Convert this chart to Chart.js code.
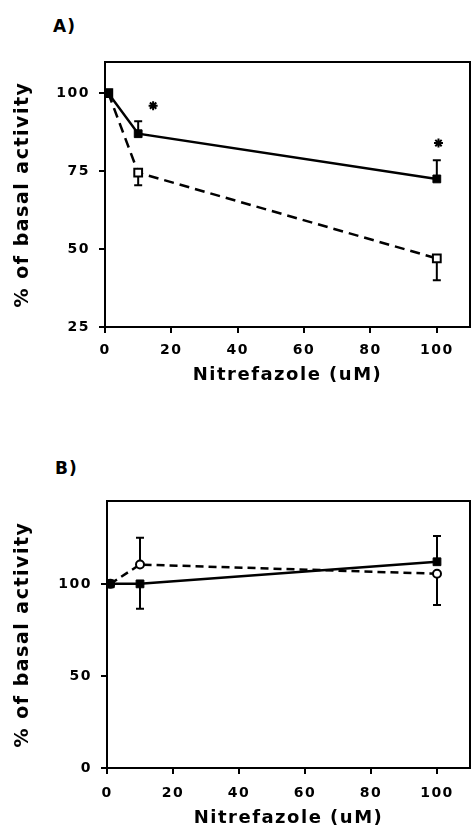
<!DOCTYPE html>
<html>
<head>
<meta charset="utf-8">
<script src="https://cdn.jsdelivr.net/npm/chart.js@4.4.1/dist/chart.umd.min.js"></script>
<style>
  body { margin: 0; background: #fff; width: 471px; height: 827px; overflow: hidden; position: relative; }
  canvas { position: absolute; left: 0; }
  .tag { position: absolute; font: bold 17px "DejaVu Sans"; letter-spacing: 1px; color: #000; }
</style>
</head>
<body>
<div class="tag" style="left:53px;top:16px">A)</div>
<canvas id="chartA" width="471" height="414" style="top:0"></canvas>
<div class="tag" style="left:55px;top:458px">B)</div>
<canvas id="chartB" width="471" height="416" style="top:413px"></canvas>
<script>
// concentrations (uM)
const conc = [1, 10, 100];

// panel A
const solidA = [100, 87, 72.5];
const solidErrA = [0, 4, 6];
const openA = [100, 74.5, 47];
const openErrA = [0, -4, -7];
const starsA = [{ x: 14.5, y: 96 }, { x: 100.5, y: 84 }];

// panel B
const solidB = [100, 100, 112];
const solidErrB = [0, -13.5, 14];
const openB = [100, 110.5, 105.5];
const openErrB = [0, 14.5, -17];

const xTicks = [0, 20, 40, 60, 80, 100];
const yTicksA = [25, 50, 75, 100];
const yTicksB = [0, 50, 100];

const FONT = "DejaVu Sans";

function toPoints(xs, ys) {
  return xs.map((x, i) => ({ x: x, y: ys[i] }));
}

// one-sided error bars, drawn under the markers
const errorBars = {
  id: "errorBars",
  beforeDatasetsDraw(chart) {
    const ctx = chart.ctx;
    const ys = chart.scales.y;
    const xs = chart.scales.x;
    ctx.save();
    ctx.strokeStyle = "#000";
    ctx.lineWidth = 2;
    chart.data.datasets.forEach((ds) => {
      if (!ds.errors) return;
      ds.data.forEach((p, i) => {
        const e = ds.errors[i];
        if (!e) return;
        const px = xs.getPixelForValue(p.x);
        const y0 = ys.getPixelForValue(p.y);
        const y1 = ys.getPixelForValue(p.y + e);
        ctx.beginPath();
        ctx.moveTo(px, y0);
        ctx.lineTo(px, y1);
        ctx.moveTo(px - 4, y1);
        ctx.lineTo(px + 4, y1);
        ctx.stroke();
      });
    });
    ctx.restore();
  },
};

// full frame round the plot area
const frame = {
  id: "frame",
  beforeDraw(chart) {
    chart.ctx.letterSpacing = "1.5px";
  },
  afterDraw(chart) {
    const a = chart.chartArea;
    const ctx = chart.ctx;
    ctx.save();
    ctx.strokeStyle = "#000";
    ctx.lineWidth = 2;
    ctx.strokeRect(a.left, a.top, a.right - a.left, a.bottom - a.top);
    ctx.restore();
  },
};

function makeChart(id, cfg) {
  const tickFont = { family: FONT, size: 14, weight: "bold" };
  const titleFont = { family: FONT, size: 18, weight: "bold" };
  return new Chart(document.getElementById(id), {
    type: "scatter",
    data: {
      datasets: [
        {
          data: toPoints(conc, cfg.solid),
          errors: cfg.solidErr,
          showLine: true,
          borderColor: "#000",
          borderWidth: 2.5,
          pointStyle: "rect",
          pointRadius: 5.5,
          pointBackgroundColor: "#000",
          pointBorderColor: "#000",
          pointBorderWidth: 1,
        },
        {
          data: toPoints(conc, cfg.open),
          errors: cfg.openErr,
          showLine: true,
          borderColor: "#000",
          borderWidth: 2.5,
          borderDash: cfg.dash,
          pointStyle: cfg.openStyle,
          pointRadius: cfg.openRadius,
          pointBackgroundColor: "#fff",
          pointBorderColor: "#000",
          pointBorderWidth: 2,
        },
        {
          data: cfg.stars,
          showLine: false,
          pointStyle: "star",
          pointRadius: 4.5,
          pointBorderColor: "#000",
          pointBorderWidth: 2,
        },
      ],
    },
    options: {
      responsive: false,
      animation: false,
      layout: { autoPadding: false, padding: { top: cfg.top, right: 1, left: 0, bottom: 0 } },
      plugins: { legend: { display: false }, tooltip: { enabled: false } },
      scales: {
        x: {
          type: "linear",
          min: 0,
          max: 110,
          afterBuildTicks: (s) => { s.ticks = xTicks.map((v) => ({ value: v })); },
          afterFit: (s) => { s.height = cfg.xHeight; s.paddingLeft = 0; s.paddingRight = 0; },
          border: { display: false },
          grid: { drawOnChartArea: false, drawTicks: true, tickLength: 6, color: "#000", lineWidth: 2 },
          ticks: { color: "#000", font: tickFont, padding: cfg.xPad, autoSkip: false, maxRotation: 0 },
          title: { display: true, text: "Nitrefazole (uM)", color: "#000", font: titleFont, padding: { top: 0, bottom: cfg.titlePad } },
        },
        y: {
          type: "linear",
          min: cfg.yMin,
          max: cfg.yMax,
          afterBuildTicks: (s) => { s.ticks = cfg.yTicks.map((v) => ({ value: v })); },
          afterFit: (s) => { s.width = cfg.yWidth; s.paddingTop = 0; s.paddingBottom = 0; },
          border: { display: false },
          grid: { drawOnChartArea: false, drawTicks: true, tickLength: 6, color: "#000", lineWidth: 2 },
          ticks: { color: "#000", font: tickFont, padding: 9, autoSkip: false },
          title: { display: true, text: "% of basal activity", color: "#000", font: { family: FONT, size: 19, weight: "bold" }, padding: { top: 12, bottom: 0 } },
        },
      },
    },
    plugins: [errorBars, frame],
  });
}

makeChart("chartA", {
  solid: solidA, solidErr: solidErrA, open: openA, openErr: openErrA, stars: starsA,
  yTicks: yTicksA, yMin: 25, yMax: 110,
  dash: [10, 6], openStyle: "rect", openRadius: 5.5,
  top: 62, xHeight: 87, xPad: 9, titlePad: 28, yWidth: 105,
});

makeChart("chartB", {
  solid: solidB, solidErr: solidErrB, open: openB, openErr: openErrB, stars: [],
  yTicks: yTicksB, yMin: 0, yMax: 145,
  dash: [8, 5], openStyle: "circle", openRadius: 4,
  top: 88, xHeight: 61, xPad: 11, titlePad: 0, yWidth: 107,
});
</script>
</body>
</html>
